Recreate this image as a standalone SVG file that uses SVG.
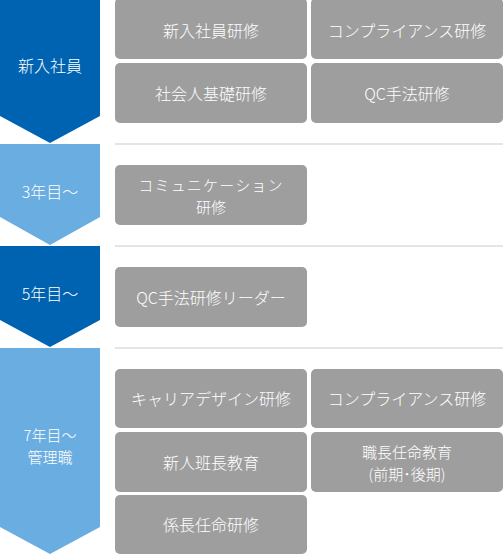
<svg xmlns="http://www.w3.org/2000/svg" width="503" height="555" viewBox="0 0 503 555">
<style>
text{font-family:"Noto Sans CJK JP","Noto Sans",sans-serif;font-size:16px;font-weight:300;fill:#fff;text-anchor:middle;dominant-baseline:central}
text.two{font-size:15px}
.dark{fill:#0063B1}
.light{fill:#6AADE0}
.box{fill:#9E9E9E}
.sep{stroke:#E5E5E5;stroke-width:2}
</style>
<rect width="503" height="555" fill="#fff"/>
<g id="stages">
<g id="stage1"><path class="dark" d="M0,0H100V116L50,143L0,116Z"/><text x="50" y="65">新入社員</text></g>
<g id="stage2"><path class="light" d="M0,144H100V217L50,245L0,217Z"/><text x="50" y="191">3年目〜</text></g>
<g id="stage3"><path class="dark" d="M0,246H100V320L50,347L0,320Z"/><text x="50" y="293">5年目〜</text></g>
<g id="stage4"><path class="light" d="M0,348H100V527L50,554L0,527Z"/><text class="two" x="50" y="434" font-size="15.5">7年目〜<tspan x="50" dy="22">管理職</tspan></text></g>
</g>
<g id="connectors">
<line class="sep" x1="115" y1="144" x2="503" y2="144"/>
<line class="sep" x1="115" y1="246" x2="503" y2="246"/>
<line class="sep" x1="115" y1="348" x2="503" y2="348"/>
</g>
<g id="n1"><rect class="box" x="115" y="-2" width="192" height="61" rx="5"/><text x="211" y="30">新入社員研修</text></g>
<g id="n2"><rect class="box" x="311" y="-2" width="192" height="61" rx="5"/><text x="407" y="30">コンプライアンス研修</text></g>
<g id="n3"><rect class="box" x="115" y="63" width="192" height="60" rx="5"/><text x="211" y="93">社会人基礎研修</text></g>
<g id="n4"><rect class="box" x="311" y="63" width="192" height="60" rx="5"/><text x="407" y="93">QC手法研修</text></g>
<g id="n5"><rect class="box" x="115" y="165" width="192" height="60" rx="5"/><text class="two" x="211" y="184"><tspan letter-spacing="1.2">コミュニケーション</tspan><tspan x="211" dy="22">研修</tspan></text></g>
<g id="n6"><rect class="box" x="115" y="267" width="192" height="60" rx="5"/><text x="211" y="297">QC手法研修リーダー</text></g>
<g id="n7"><rect class="box" x="115" y="369" width="192" height="59" rx="5"/><text x="211" y="398">キャリアデザイン研修</text></g>
<g id="n8"><rect class="box" x="311" y="369" width="192" height="59" rx="5"/><text x="407" y="398">コンプライアンス研修</text></g>
<g id="n9"><rect class="box" x="115" y="432" width="192" height="60" rx="5"/><text x="211" y="462">新人班長教育</text></g>
<g id="n10"><rect class="box" x="311" y="432" width="192" height="60" rx="5"/><text class="two" x="407" y="451">職長任命教育<tspan x="407" dy="22">(前期･後期)</tspan></text></g>
<g id="n11"><rect class="box" x="115" y="495" width="192" height="59" rx="5"/><text x="211" y="524">係長任命研修</text></g>
</svg>
